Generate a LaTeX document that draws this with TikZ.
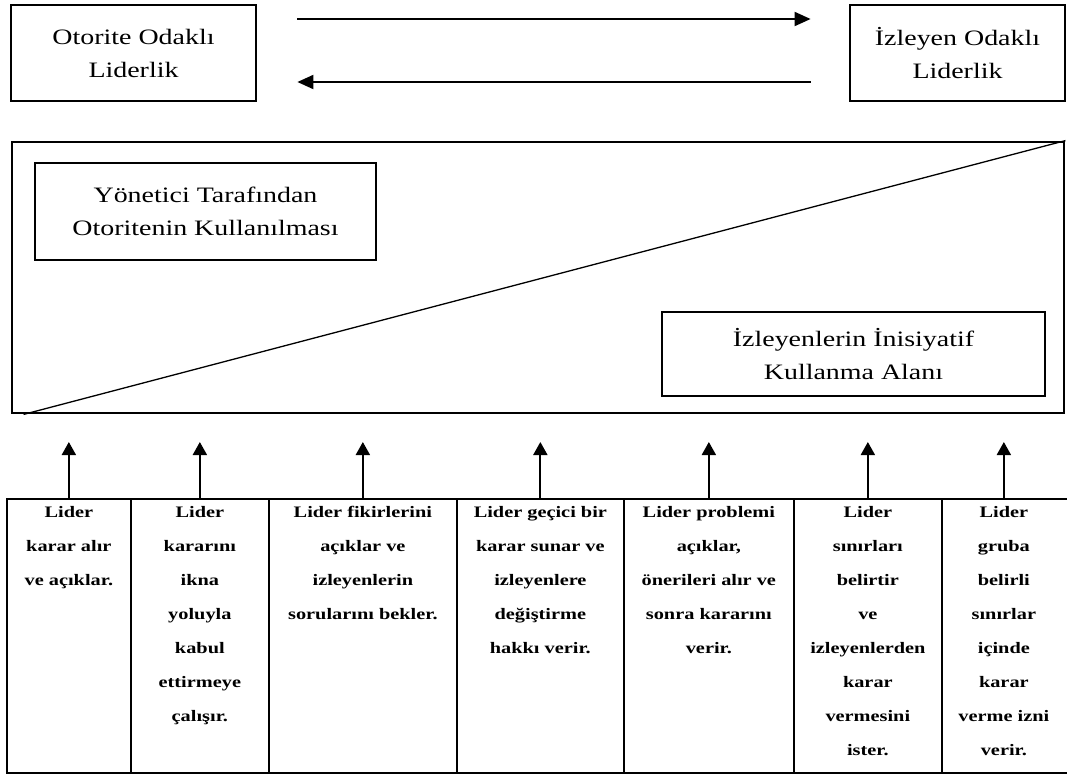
\documentclass[tikz,border=0pt]{standalone}
\usepackage{fontspec}
\setmainfont{Liberation Serif}[FakeStretch=1.27]
\usetikzlibrary{arrows.meta,calc}
\begin{document}
\begin{tikzpicture}[x=1pt,y=-1pt,
  box/.style={draw,line width=2.8pt,inner sep=0pt,align=center,
    font=\fontsize{22}{33}\selectfont},
  frame/.style={draw,line width=2.8pt,inner sep=0pt},
  col/.style={draw,line width=1.7pt,inner sep=0pt,anchor=north west,minimum height=274pt},
  coltext/.style={anchor=north,align=center,inner sep=0pt,
    font=\bfseries\fontsize{16}{34}\selectfont},
  toparr/.style={line width=1.9pt,-{Triangle[width=14pt,length=16pt]}},
  uparr/.style={line width=1.9pt,-{Triangle[width=14pt,length=13pt]}},
]
\useasboundingbox (0,0) rectangle (1067,774);

% leadership styles at both ends of the continuum
\node[box,minimum width=245pt,minimum height=96pt] (ol) at (133.5,53) {Otorite Odaklı\\Liderlik};
\node[box,minimum width=215pt,minimum height=96pt] (il) at (957.5,53) {İzleyen Odaklı\\Liderlik};
\draw[toparr] ([shift={(40,-34)}]ol.east) -- ([shift={(-38,-34)}]il.west);
\draw[toparr] ([shift={(-38,29)}]il.west) -- ([shift={(40,29)}]ol.east);

% authority vs. freedom area
\node[frame,minimum width=1052pt,minimum height=271pt] (big) at (538,277.5) {};
\draw[line width=1.3pt] ($(big.south west)+(13,0)$) -- (big.north east);
\node[box,minimum width=341pt,minimum height=97pt] (yt) at (205.5,211.5) {Yönetici Tarafından\\Otoritenin Kullanılması};
\node[box,minimum width=383pt,minimum height=84pt] (ii) at (853.5,354) {İzleyenlerin İnisiyatif\\Kullanma Alanı};

% behaviour columns
\node[col,minimum width=124pt] (c1) at (6,498) {};
\node[col,minimum width=138pt] (c2) at (130,498) {};
\node[col,minimum width=188pt] (c3) at (268,498) {};
\node[col,minimum width=167pt] (c4) at (456,498) {};
\node[col,minimum width=170pt] (c5) at (623,498) {};
\node[col,minimum width=148pt] (c6) at (793,498) {};
\node[col,minimum width=132pt] (c7) at (941,498) {};

\node[coltext] (t1) at ([yshift=-8pt]c1.north) {Lider\\karar alır\\ve açıklar.};
\node[coltext] (t2) at ([yshift=-8pt]c2.north) {Lider\\kararını\\ikna\\yoluyla\\kabul\\ettirmeye\\çalışır.};
\node[coltext] (t3) at ([yshift=-8pt]c3.north) {Lider fikirlerini\\açıklar ve\\izleyenlerin\\sorularını bekler.};
\node[coltext] (t4) at ([yshift=-8pt]c4.north) {Lider geçici bir\\karar sunar ve\\izleyenlere\\değiştirme\\hakkı verir.};
\node[coltext] (t5) at ([yshift=-8pt]c5.north) {Lider problemi\\açıklar,\\önerileri alır ve\\sonra kararını\\verir.};
\node[coltext] (t6) at ([yshift=-8pt]c6.north) {Lider\\sınırları\\belirtir\\ve\\izleyenlerden\\karar\\vermesini\\ister.};
\node[coltext] (t7) at ([xshift=-4pt,yshift=-8pt]c7.north) {Lider\\gruba\\belirli\\sınırlar\\içinde\\karar\\verme izni\\verir.};

\foreach \i in {1,...,6}
  \draw[uparr] (c\i.north) -- ([yshift=56pt]c\i.north);
\draw[uparr] ([xshift=-4pt]c7.north) -- ([xshift=-4pt,yshift=56pt]c7.north);
\end{tikzpicture}
\end{document}
